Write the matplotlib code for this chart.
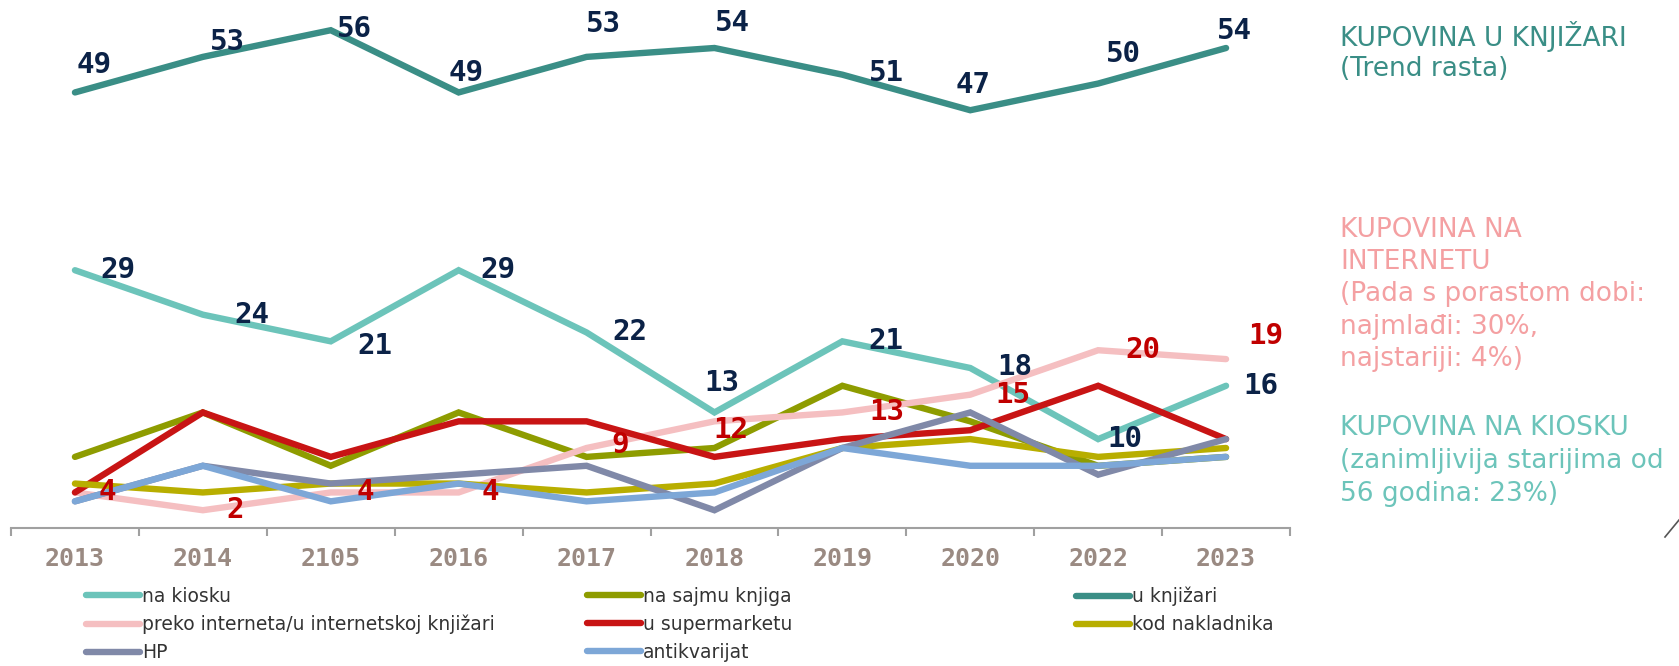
import matplotlib.pyplot as plt
import numpy as np

# podaci
godine = ["2013", "2014", "2105", "2016", "2017", "2018", "2019", "2020", "2022", "2023"]
na_kiosku = [29, 24, 21, 29, 22, 13, 21, 18, 10, 16]
na_sajmu = [8, 13, 7, 13, 8, 9, 16, 12, 7, 8]
u_knjizari = [49, 53, 56, 49, 53, 54, 51, 47, 50, 54]
internet = [4, 2, 4, 4, 9, 12, 13, 15, 20, 19]
supermarket = [4, 13, 8, 12, 12, 8, 10, 11, 16, 10]
nakladnik = [5, 4, 5, 5, 4, 5, 9, 10, 8, 9]
hp = [3, 7, 5, 6, 7, 2, 9, 13, 6, 10]
antikvarijat = [3, 7, 3, 5, 3, 4, 9, 7, 7, 8]

serije = [
    ("na kiosku", na_kiosku, "#6CC4BA"),
    ("na sajmu knjiga", na_sajmu, "#8E9C00"),
    ("u knjižari", u_knjizari, "#3A8E86"),
    ("preko interneta/u internetskoj knjižari", internet, "#F5BFC1"),
    ("u supermarketu", supermarket, "#C81414"),
    ("kod nakladnika", nakladnik, "#B8AE00"),
    ("HP", hp, "#8089A8"),
    ("antikvarijat", antikvarijat, "#7DA7D7"),
]

# pomaci oznaka (u tockama)
pomak_knjizari = [(14, 20), (18, 11), (17, 1), (5, 14), (12, 24), (13, 18), (32, 1), (2, 18), (18, 21), (6, 12)]
pomak_kiosk = [(31, 0), (35, 0), (32, -3), (28, 0), (31, 0), (5, 21), (31, 0), (32, 1), (19, 0), (25, 0)]
pomak_internet = [(23, 0), (23, 0), (25, 0), (23, 0), (24, 2), (12, -6), (32, 0), (31, 0), (32, 0), (29, 17)]

W, H = 1679, 666
fig = plt.figure(figsize=(W / 100, H / 100), dpi=100)
ax = fig.add_axes([11 / W, 1 - 528 / H, (1290 - 11) / W, 528 / H])

x = np.arange(len(godine))
linije = {}
for ime, vrijednosti, boja in serije:
    linije[ime], = ax.plot(x, vrijednosti, color=boja, lw=4.6, label=ime,
                           solid_capstyle="round", solid_joinstyle="miter")

labfont = dict(family="DejaVu Sans Mono", fontweight="bold", fontsize=21)
for vals, pom, boja in [(u_knjizari, pomak_knjizari, "#0B2247"),
                        (na_kiosku, pomak_kiosk, "#0B2247"),
                        (internet, pomak_internet, "#C00000")]:
    for i, v in enumerate(vals):
        ax.annotate(str(v), (x[i], v), xytext=pom[i], textcoords="offset points",
                    ha="center", va="center", color=boja, **labfont)

ax.set_xlim(-0.5, len(godine) - 0.5)
ax.set_ylim(0, 59.4)
ax.set_yticks([])
for s in ["top", "right", "left"]:
    ax.spines[s].set_visible(False)
ax.spines["bottom"].set_color("#A0A0A0")
ax.spines["bottom"].set_linewidth(1.5)
ax.set_xticks(x)
ax.set_xticklabels(godine, family="DejaVu Sans Mono", fontweight="bold", fontsize=18, color="#9A8A82")
ax.tick_params(axis="x", which="major", length=0, pad=14)
ax.set_xticks(np.arange(-0.5, len(godine)), minor=True)
ax.tick_params(axis="x", which="minor", length=6, width=1.5, color="#A0A0A0", direction="out")

# legenda u tri stupca
stupci = [
    (["na kiosku", "preko interneta/u internetskoj knjižari", "HP"], 86),
    (["na sajmu knjiga", "u supermarketu", "antikvarijat"], 587),
    (["u knjižari", "kod nakladnika"], 1076),
]
for imena, lx in stupci:
    leg = fig.legend([linije[n] for n in imena], imena, loc="upper left",
                     bbox_to_anchor=(lx / W, 1 - 587 / H), frameon=False, fontsize=13.5,
                     handlelength=2.9, handletextpad=0.1, labelspacing=0.47,
                     borderpad=0, borderaxespad=0)
    for t in leg.get_texts():
        t.set_color("#333333")

# tekst desno
tx = 1340 / W
blokovi = [
    (["KUPOVINA U KNJIŽARI", "(Trend rasta)"], [36, 69], "#3A8E86"),
    (["KUPOVINA NA", "INTERNETU", "(Pada s porastom dobi:", "najmlađi: 30%,", "najstariji: 4%)"],
     [230, 262, 294, 327, 359], "#F4A0A2"),
    (["KUPOVINA NA KIOSKU", "(zanimljivija starijima od", "56 godina: 23%)"], [428, 461, 494], "#6CC4BA"),
]
for redovi, ys, boja in blokovi:
    for r, yy in zip(redovi, ys):
        fig.text(tx, 1 - yy / H, r, color=boja, fontsize=19, va="center")

# ostatak strelice uz desni rub
fig.add_artist(plt.Line2D([1665 / W, 1679 / W], [1 - 537 / H, 1 - 520 / H], color="#555555", lw=1.2))

fig.savefig("out.png", dpi=100)
